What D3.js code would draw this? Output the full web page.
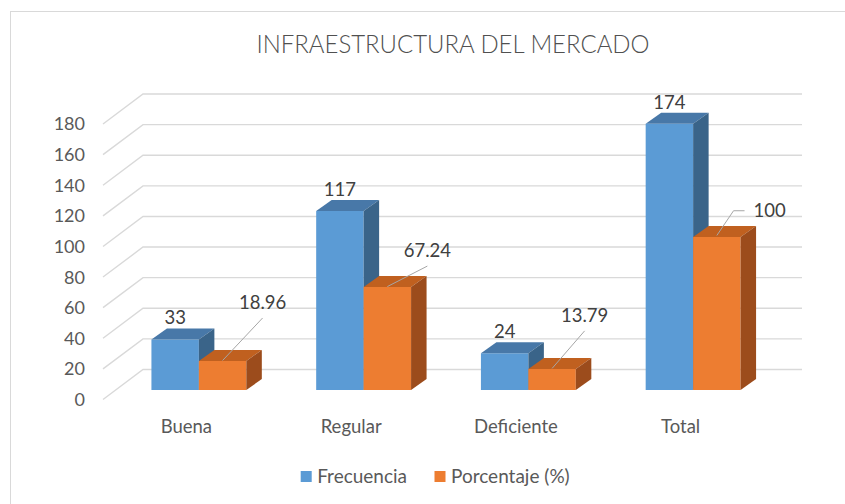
<!DOCTYPE html>
<html>
<head>
<meta charset="utf-8">
<script src="https://cdn.jsdelivr.net/npm/d3@7"></script>
<style>
  html, body { margin: 0; padding: 0; background: #fff; }
  svg { display: block; }
  text { font-family: Lato, "Open Sans", sans-serif; }
</style>
</head>
<body>
<svg id="chart" width="845" height="504"></svg>
<script>
// ---- data ----
const categories = ["Buena", "Regular", "Deficiente", "Total"];
const frecuencia = [33, 117, 24, 174];
const porcentaje = [18.96, 67.24, 13.79, 100];
const porcentajeLabels = ["18.96", "67.24", "13.79", "100"];
const yTicks = [0, 20, 40, 60, 80, 100, 120, 140, 160, 180];
const seriesNames = ["Frecuencia", "Porcentaje (%)"];
const titleText = "INFRAESTRUCTURA DEL MERCADO";

// ---- layout ----
const W = 845, H = 504;
const svg = d3.select("#chart");
const back = { x0: 143, x1: 802 };          // back wall
const frontOff = { dx: -40, dy: 30 };       // axis/front plane offset
const barOff = { dx: -26.5, dy: 20.5 };     // bar front plane offset
const depth = { dx: 15.5, dy: -11 };        // bar depth

const colors = {
  Frecuencia: { front: "#5B9BD5", top: "#4878A8", side: "#3A6489" },
  Porcentaje: { front: "#ED7D31", top: "#C0601F", side: "#9C4C1C" }
};

const y = d3.scaleLinear().domain([0, 180]).range([369.5, 94]);

// border
svg.append("rect").attr("x", 10.5).attr("y", 11.5).attr("width", 900).attr("height", 600)
  .attr("fill", "#fff").attr("stroke", "#D9D9D9").attr("stroke-width", 1);

// title
svg.append("text").attr("x", 453).attr("y", 52.5).attr("text-anchor", "middle")
  .attr("font-size", 24.5).attr("font-weight", 300).attr("fill", "#505050")
  .attr("textLength", 393).attr("lengthAdjust", "spacingAndGlyphs").text(titleText);

// gridlines
const grid = svg.append("g").attr("stroke", "#D9D9D9").attr("stroke-width", 1.4).attr("fill", "none");
yTicks.forEach(t => {
  const yb = y(t);
  grid.append("path").attr("d",
    `M${back.x0 + frontOff.dx},${yb + frontOff.dy}L${back.x0},${yb}L${back.x1},${yb}`);
});

// y tick labels
svg.append("g").selectAll("text").data(yTicks).join("text")
  .attr("x", 85).attr("y", d => y(d) + frontOff.dy)
  .attr("dy", "0.36em").attr("text-anchor", "end")
  .attr("font-size", 18).attr("fill", "#595959").text(d => d);

// category labels (front plane)
const xFront = d3.scaleBand().domain(categories)
  .range([back.x0 + frontOff.dx, back.x1 + frontOff.dx]);
svg.append("g").selectAll("text").data(categories).join("text")
  .attr("x", d => xFront(d) + xFront.bandwidth() / 2 + 1)
  .attr("y", 433).attr("text-anchor", "middle")
  .attr("font-size", 18.5).attr("fill", "#595959").text(d => d);

// bars
const xBar = d3.scaleBand().domain(categories)
  .range([back.x0 + barOff.dx, back.x1 + barOff.dx])
  .paddingInner(0.424).paddingOuter(0.212);
const xSeries = d3.scaleBand().domain(seriesNames).range([0, xBar.bandwidth()]);
const yBar = v => y(v) + barOff.dy;
const base = yBar(0);

function drawBox(g, x0, w, v, c) {
  const yt = yBar(v), x1 = x0 + w;
  const dx = depth.dx, dy = depth.dy;
  g.append("path").attr("fill", c.front)
    .attr("d", `M${x0},${base}L${x0},${yt}L${x1},${yt}L${x1},${base}Z`);
  g.append("path").attr("fill", c.top)
    .attr("d", `M${x0},${yt}L${x0 + dx},${yt + dy}L${x1 + dx},${yt + dy}L${x1},${yt}Z`);
  g.append("path").attr("fill", c.side)
    .attr("d", `M${x1},${yt}L${x1 + dx},${yt + dy}L${x1 + dx},${base + dy}L${x1},${base}Z`);
}

const bars = svg.append("g");
categories.forEach((cat, i) => {
  const g = bars.append("g");
  drawBox(g, xBar(cat) + xSeries(seriesNames[0]), xSeries.bandwidth(), frecuencia[i], colors.Frecuencia);
  drawBox(g, xBar(cat) + xSeries(seriesNames[1]), xSeries.bandwidth(), porcentaje[i], colors.Porcentaje);
});

// data labels: Frecuencia
svg.append("g").selectAll("text").data(categories).join("text")
  .attr("x", d => xBar(d) + xSeries(seriesNames[0]) + xSeries.bandwidth() / 2)
  .attr("y", (d, i) => yBar(frecuencia[i]) + depth.dy - 4)
  .attr("text-anchor", "middle").attr("font-size", 18.5).attr("fill", "#404040")
  .text((d, i) => frecuencia[i]);

// data labels: Porcentaje with leader lines (manually placed offsets)
const labelOffsets = [
  { dx: 40, dy: -52 },
  { dx: 40, dy: -30 },
  { dx: 32.5, dy: -47 },
  { dx: 36.7, dy: -19.5, elbow: true }
];
const lg = svg.append("g");
categories.forEach((cat, i) => {
  const cx = xBar(cat) + xSeries(seriesNames[1]) + xSeries.bandwidth() / 2;
  const yt = yBar(porcentaje[i]);
  const o = labelOffsets[i];
  const tx = cx + o.dx, ty = yt + o.dy;
  if (o.elbow) {
    lg.append("path").attr("fill", "none").attr("stroke", "#A6A6A6").attr("stroke-width", 1)
      .attr("d", `M${cx},${yt - 1.5}L${cx + 16.7},${ty - 6.7}L${cx + 27.7},${ty - 6.7}`);
    lg.append("text").attr("x", tx).attr("y", ty).attr("text-anchor", "start")
      .attr("font-size", 18.5).attr("fill", "#404040").text(porcentajeLabels[i]);
  } else {
    lg.append("path").attr("fill", "none").attr("stroke", "#A6A6A6").attr("stroke-width", 1)
      .attr("d", `M${cx},${yt - 0.5}L${tx},${ty + 9}`);
    lg.append("text").attr("x", tx).attr("y", ty).attr("text-anchor", "middle")
      .attr("font-size", 18.5).attr("fill", "#404040").text(porcentajeLabels[i]);
  }
});

// legend
const legend = svg.append("g");
const legendItems = [
  { name: seriesNames[0], color: colors.Frecuencia.front, x: 300.7 },
  { name: seriesNames[1], color: colors.Porcentaje.front, x: 434.5 }
];
legendItems.forEach(it => {
  legend.append("rect").attr("x", it.x).attr("y", 471).attr("width", 11).attr("height", 11).attr("fill", it.color);
  legend.append("text").attr("x", it.x + 16.5).attr("y", 483).attr("font-size", 19)
    .attr("fill", "#595959").text(it.name);
});
</script>
</body>
</html>
